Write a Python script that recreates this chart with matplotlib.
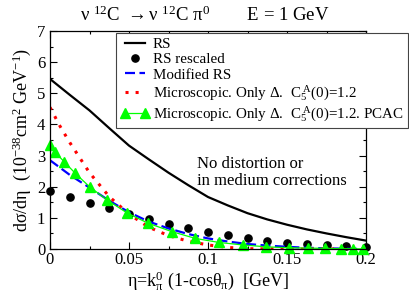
import numpy as np
import matplotlib
matplotlib.use("Agg")
import matplotlib.pyplot as plt
from matplotlib.legend_handler import HandlerLine2D

plt.rcParams['font.family'] = ['Liberation Serif', 'DejaVu Serif']
plt.rcParams['mathtext.fontset'] = 'custom'
plt.rcParams['mathtext.rm'] = 'Liberation Serif'
plt.rcParams['mathtext.it'] = 'Liberation Serif'
plt.rcParams['mathtext.bf'] = 'Liberation Serif'
plt.rcParams['mathtext.sf'] = 'Liberation Serif'

# data
eta_grid = [0, 0.0125, 0.025, 0.0375, 0.05, 0.0625, 0.075, 0.0875, 0.1,
            0.1125, 0.125, 0.1375, 0.15, 0.1625, 0.175, 0.1875, 0.2]
rs = [5.46, 4.95, 4.45, 3.88, 3.32, 2.88, 2.45, 2.05, 1.67,
      1.40, 1.15, 0.95, 0.78, 0.63, 0.50, 0.38, 0.27]
rs_rescaled = [1.85, 1.67, 1.49, 1.31, 1.13, 0.96, 0.81, 0.67, 0.55,
               0.44, 0.35, 0.27, 0.20, 0.16, 0.12, 0.09, 0.07]
modified_rs = [2.85, 2.38, 1.97, 1.55, 1.18, 0.88, 0.66, 0.48, 0.34,
               0.24, 0.16, 0.11, 0.07, 0.04, 0.02, 0.01, 0.0]

eta_micro = [0, 0.00625, 0.0125, 0.025, 0.0375, 0.05, 0.0625, 0.075, 0.0875,
             0.1, 0.1125, 0.125, 0.15, 0.175, 0.2]
micro = [4.55, 3.95, 3.42, 2.45, 1.68, 1.12, 0.70, 0.43, 0.25,
         0.13, 0.05, 0.01, 0.0, 0.0, 0.0]

eta_pcac = [0, 0.003, 0.009, 0.016, 0.025, 0.036, 0.049, 0.062, 0.077, 0.092,
            0.107, 0.122, 0.137, 0.151, 0.163, 0.174, 0.184, 0.192, 0.198]
micro_pcac = [3.35, 3.12, 2.80, 2.43, 2.00, 1.58, 1.15, 0.83, 0.56, 0.34,
              0.21, 0.13, 0.07, 0.04, 0.03, 0.02, 0.01, 0.01, 0.0]

fig = plt.figure(figsize=(4.09, 2.97), dpi=100)
ax = fig.add_axes([50/409, 1-249/297, 316/409, 218/297])

ax.plot(eta_grid, rs, color='black', lw=1.6, label='RS')
dots, = ax.plot(eta_grid, rs_rescaled, 'o', color='black', ms=5.2,
                clip_on=False, label='RS rescaled')
ax.plot(eta_grid, modified_rs, color='#0000ff', lw=1.6,
        dashes=(4.5, 2.0), label='Modified RS')
ax.plot(eta_micro, micro, color='#ff0000', lw=2.2,
        linestyle=(0, (1, 2.3)), label=r'Microscopic. Only Δ.  C$_5^{\ A}$(0)=1.2')
ax.plot(eta_pcac, micro_pcac, color='#00ff00', lw=0.9, marker='^', ms=6.5,
        clip_on=False,
        label=r'Microscopic. Only Δ.  C$_5^{\ A}$(0)=1.2. PCAC')

ax.set_xlim(0, 0.2)
ax.set_ylim(0, 7)
ax.set_xticks([0, 0.05, 0.1, 0.15, 0.2])
ax.set_xticklabels(['0', '0.05', '0.1', '0.15', '0.2'])
ax.set_xticks(np.arange(0, 0.2001, 0.025), minor=True)
ax.set_yticks(range(8))
ax.set_yticks(np.arange(0, 7.01, 0.5), minor=True)
ax.tick_params(which='both', direction='in', top=True, right=True,
               labelsize=12, width=0.8)
ax.tick_params(which='major', length=5)
ax.tick_params(which='minor', length=2.5)
ax.tick_params(axis='x', pad=2)
for s in ax.spines.values():
    s.set_linewidth(0.9)

ax.set_xlabel(r'η=k$^{0}_{π}$ (1-cosθ$_{π}$)  [GeV]', fontsize=13, labelpad=1)
ax.set_ylabel(r'dσ/dη  (10$^{-38}$cm$^{2}$ GeV$^{-1}$)', fontsize=13,
              labelpad=3)

ax.text(0.0928, 2.98, 'No distortion or\nin medium corrections',
        fontsize=12, va='top', ha='left', linespacing=1.1)

fig.text(0.5, 1-21/297, r'ν $^{12}$C $\rightarrow$ν $^{12}$C π$^{0}$        E = 1 GeV',
         ha='center', va='baseline', fontsize=13.5)

leg = fig.legend(loc='upper left', bbox_to_anchor=(116/409, 1-33/297),
                 borderaxespad=0, fontsize=10.8, numpoints=2,
                 handler_map={dots: HandlerLine2D(numpoints=1)},
                 handlelength=1.9, handletextpad=0.25, labelspacing=0.12,
                 borderpad=0.3, fancybox=False, edgecolor='#444444',
                 framealpha=1)
leg.get_frame().set_linewidth(0.8)

fig.savefig('out.png', dpi=100)
